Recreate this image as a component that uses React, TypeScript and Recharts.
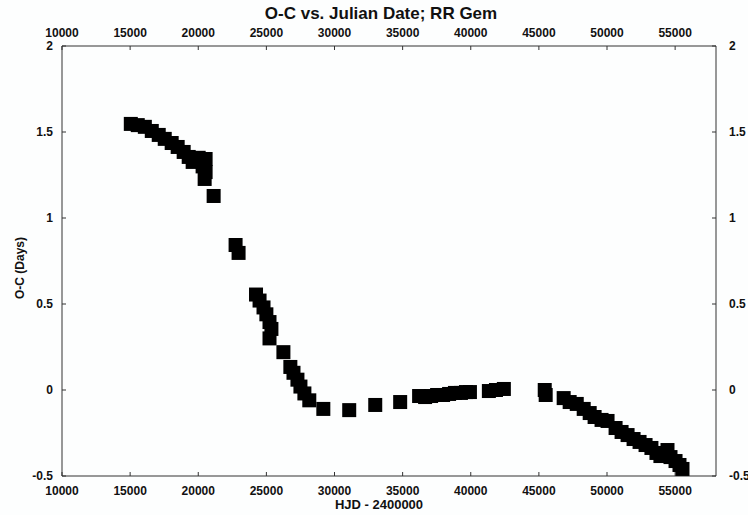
import { ScatterChart, Scatter, XAxis, YAxis } from "recharts";

// O-C residuals for RR Gem
const hjd = [
  15050, 15560, 16080, 16590, 17100, 17540, 18050, 18490, 18930, 19300, 19590, 20030, 20540, 20320, 20540, 20470, 21130,
  22740, 22960,
  24240, 24500, 24790, 25000, 25230, 25370, 25230, 26250, 26760, 26990, 27280, 27500, 27790, 28150, 29180,
  31080, 32990, 34820,
  36210, 36650, 37090, 37530, 37970, 38410, 38840, 39280, 39650, 39940, 41330, 41850, 42430,
  45430, 45500,
  46820, 47260, 47780, 48290, 48730, 49090, 49600, 50040, 50630, 51070, 51510, 51950, 52390, 52830, 53260, 53630, 53920, 54440, 54660, 55030, 55320, 55540,
];
const oc = [
  1.547, 1.54, 1.53, 1.506, 1.483, 1.46, 1.436, 1.413, 1.384, 1.355, 1.326, 1.35, 1.343, 1.3, 1.267, 1.227, 1.128,
  0.843, 0.797,
  0.555, 0.52, 0.48, 0.44, 0.395, 0.355, 0.3, 0.22, 0.134, 0.1, 0.06, 0.02, -0.02, -0.06, -0.11,
  -0.117, -0.087, -0.07,
  -0.035, -0.041, -0.035, -0.029, -0.029, -0.023, -0.017, -0.017, -0.012, -0.012, -0.006, 0.0, 0.006,
  0.0, -0.029,
  -0.047, -0.07, -0.081, -0.11, -0.134, -0.157, -0.174, -0.18, -0.221, -0.244, -0.262, -0.285, -0.302, -0.32, -0.337, -0.366, -0.384, -0.349, -0.39, -0.413, -0.436, -0.459,
];

const xTicks = [10000, 15000, 20000, 25000, 30000, 35000, 40000, 45000, 50000, 55000];
const yTicks = [-0.5, 0, 0.5, 1, 1.5, 2];

const data = hjd.map((x, i) => ({ x, y: oc[i] }));

const tickStyle = { fontSize: 12, fontWeight: "bold", fill: "#111", fontFamily: "Liberation Sans, Arial, sans-serif" };
const axisLine = { stroke: "#333", strokeWidth: 1 };

function Square(props: any) {
  const { cx, cy } = props;
  return <rect x={cx - 7} y={cy - 7} width={14} height={14} fill="#000" />;
}

export default function App() {
  return (
    <div style={{ position: "absolute", left: 0, top: 0, width: 748, height: 515, background: "#fdfefe", fontFamily: "Liberation Sans, Arial, sans-serif" }}>
      <div style={{ position: "absolute", top: 4, left: 0, width: 762, textAlign: "center", fontSize: 17, fontWeight: "bold", color: "#111" }}>
        O-C vs. Julian Date; RR Gem
      </div>
      <div style={{ position: "absolute", top: 497, left: 0, width: 758, textAlign: "center", fontSize: 13, fontWeight: "bold", color: "#111" }}>
        HJD - 2400000
      </div>
      <div style={{ position: "absolute", left: 20, top: 268, transform: "translate(-50%, -50%) rotate(-90deg)", whiteSpace: "nowrap", fontSize: 12, fontWeight: "bold", color: "#111" }}>
        O-C (Days)
      </div>
      <ScatterChart width={748} height={515} margin={{ top: 26, right: 2, bottom: 19, left: 32 }}>
        <XAxis
          xAxisId="bottom"
          dataKey="x"
          type="number"
          orientation="bottom"
          domain={[10000, 58000]}
          ticks={xTicks}
          interval={0}
          height={20}
          tickSize={-4}
          tickMargin={14}
          tick={tickStyle}
          axisLine={axisLine}
          tickLine={axisLine}
          allowDataOverflow
        />
        <XAxis
          xAxisId="top"
          dataKey="x"
          type="number"
          orientation="top"
          domain={[10000, 58000]}
          ticks={xTicks}
          interval={0}
          height={20}
          tickSize={-4}
          tickMargin={13}
          tick={tickStyle}
          axisLine={axisLine}
          tickLine={axisLine}
          allowDataOverflow
        />
        <YAxis
          yAxisId="left"
          dataKey="y"
          type="number"
          orientation="left"
          domain={[-0.5, 2]}
          ticks={yTicks}
          interval={0}
          width={30}
          tickSize={-4}
          tickMargin={13}
          tick={tickStyle}
          axisLine={axisLine}
          tickLine={axisLine}
          allowDataOverflow
        />
        <YAxis
          yAxisId="right"
          dataKey="y"
          type="number"
          orientation="right"
          domain={[-0.5, 2]}
          ticks={yTicks}
          interval={0}
          width={30}
          tickSize={-4}
          tickMargin={17}
          tick={tickStyle}
          axisLine={axisLine}
          tickLine={axisLine}
          allowDataOverflow
        />
        <Scatter data={data} xAxisId="bottom" yAxisId="left" shape={<Square />} isAnimationActive={false} />
      </ScatterChart>
    </div>
  );
}
